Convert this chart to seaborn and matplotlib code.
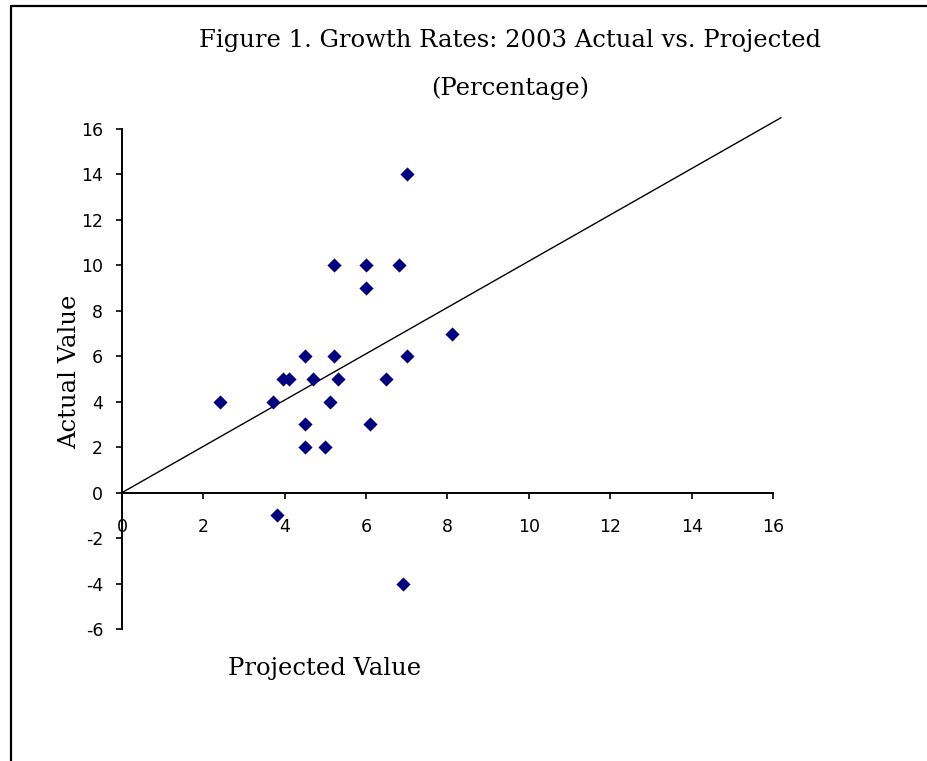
import pandas as pd
import seaborn as sns
import matplotlib.pyplot as plt
from matplotlib.lines import Line2D

# Growth rates, 2003: projected vs actual (percent)
projected = [7.0, 5.2, 6.0, 6.8, 6.0, 8.1, 4.5, 5.2, 7.0, 3.95, 4.1, 4.7,
             5.3, 6.5, 2.4, 3.7, 5.1, 4.5, 6.1, 4.5, 5.0, 3.8, 6.9]
actual = [14, 10, 10, 10, 9, 7, 6, 6, 6, 5, 5, 5,
          5, 5, 4, 4, 4, 3, 3, 2, 2, -1, -4]

# 45 degree reference line
line_x = [0, 16.2]
line_y = [0, 16.5]

x_ticks = [0, 2, 4, 6, 8, 10, 12, 14, 16]
y_ticks = [-6, -4, -2, 0, 2, 4, 6, 8, 10, 12, 14, 16]

title_1 = "Figure 1. Growth Rates: 2003 Actual vs. Projected"
title_2 = "(Percentage)"

sns.set_theme(style='white')
plt.rcParams['font.family'] = ['DejaVu Sans']
plt.rcParams['text.color'] = 'black'
plt.rcParams['axes.unicode_minus'] = False

df = pd.DataFrame({'projected': projected, 'actual': actual})

W, H = 928, 761
fig = plt.figure(figsize=(W / 100, H / 100), dpi=100)
fig.patch.set_facecolor('white')

# axes placed so that x 0..16 and y -6..16 land where the reference has them
ax = fig.add_axes([122 / W, 1 - 629 / H, (773 - 122) / W, (629 - 129) / H])
ax.set_facecolor('white')

ax.plot(line_x, line_y, color='black', lw=1.0, clip_on=False, zorder=2)
sns.scatterplot(data=df, x='projected', y='actual', ax=ax, marker='D',
                color='#000080', s=52, linewidth=0, zorder=3, clip_on=False)

ax.set_xlim(0, 16)
ax.set_ylim(-6, 16)
ax.set_xticks(x_ticks)
ax.set_yticks(y_ticks)
ax.set_xlabel('')
ax.set_ylabel('')

for side in ['top', 'right']:
    ax.spines[side].set_visible(False)
ax.spines['bottom'].set_position(('data', 0))
for side in ['left', 'bottom']:
    ax.spines[side].set_color('black')
    ax.spines[side].set_linewidth(1.4)

ax.tick_params(axis='both', direction='out', length=4.5, width=1.2,
               color='black', labelcolor='black', labelsize=12.5)
ax.tick_params(axis='x', pad=14, bottom=True)
ax.tick_params(axis='y', pad=9, left=True)

serif = 'DejaVu Serif'
fig.text(510 / W, 1 - 40 / H, title_1, ha='center', va='center',
         family=serif, fontsize=17.5, color='black')
fig.text(510 / W, 1 - 88 / H, title_2, ha='center', va='center',
         family=serif, fontsize=17.5, color='black')
fig.text(70 / W, 1 - 372 / H, 'Actual Value', rotation=90, ha='center',
         va='center', family=serif, fontsize=17.5, color='black')
fig.text(325 / W, 1 - 668 / H, 'Projected Value', ha='center', va='center',
         family=serif, fontsize=17.5, color='black')

# frame lines along the top and left edge of the picture
fig.add_artist(Line2D([11 / W, 11 / W], [0, 1 - 6 / H], color='black', lw=1.6,
                      transform=fig.transFigure))
fig.add_artist(Line2D([11 / W, 1], [1 - 6 / H, 1 - 6 / H], color='black', lw=1.6,
                      transform=fig.transFigure))

fig.savefig('out.png', dpi=100, facecolor='white')
